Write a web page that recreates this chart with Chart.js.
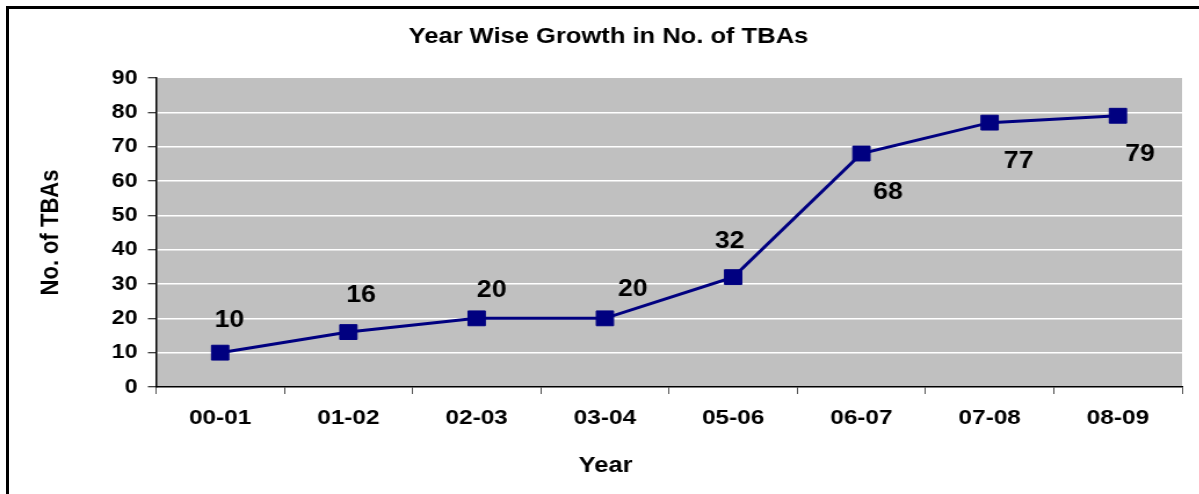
<!DOCTYPE html>
<html>
<head>
<meta charset="utf-8">
<script src="https://cdn.jsdelivr.net/npm/chart.js@4"></script>
<style>
  html, body { margin: 0; padding: 0; background: #fff; overflow: hidden; width: 1199px; height: 494px; }
  #frame { position: absolute; left: 6px; top: 6px; width: 3000px; height: 3000px;
           border-left: 3px solid #000; border-top: 3px solid #000; }
  #wrap { position: absolute; left: 0; top: 0; width: 1034px; height: 494px;
          transform: scaleX(1.16); transform-origin: 0 0; }
</style>
</head>
<body>
<div id="frame"></div>
<div id="wrap"><canvas id="c" width="1034" height="494"></canvas></div>
<script>
// ---- data ----
const categories = ['00-01', '01-02', '02-03', '03-04', '05-06', '06-07', '07-08', '08-09'];
const tbaCounts = [10, 16, 20, 20, 32, 68, 77, 79];
const yTicks = [0, 10, 20, 30, 40, 50, 60, 70, 80, 90];
const chartTitle = 'Year Wise Growth in No. of TBAs';
const xTitle = 'Year';
const yTitle = 'No. of TBAs';

// label offsets relative to each point (style only)
const labelDx = [8, 11, 13, 24, -3, 23, 25, 19];
const labelDy = [-32, -36, -28, -29, -35, 39, 39, 39];

const FONT = '"Liberation Sans", Arial, sans-serif';

const plotBg = {
  id: 'plotBg',
  beforeDraw(chart) {
    const { ctx, chartArea: a } = chart;
    ctx.save();
    ctx.fillStyle = '#C0C0C0';
    ctx.fillRect(a.left, a.top, a.right - a.left, a.bottom - a.top);
    ctx.restore();
  }
};

const valueLabels = {
  id: 'valueLabels',
  afterDatasetsDraw(chart) {
    const { ctx } = chart;
    const meta = chart.getDatasetMeta(0);
    ctx.save();
    ctx.font = 'bold 23px ' + FONT;
    ctx.fillStyle = '#000';
    ctx.textAlign = 'center';
    ctx.textBaseline = 'middle';
    meta.data.forEach((pt, i) => {
      ctx.fillText(String(tbaCounts[i]), pt.x + labelDx[i], pt.y + labelDy[i]);
    });
    ctx.restore();
  }
};

const xAxisTitle = {
  id: 'xAxisTitle',
  afterDraw(chart) {
    const { ctx, width } = chart;
    const xs = chart.scales.x;
    ctx.save();
    ctx.font = 'bold 22px ' + FONT;
    ctx.fillStyle = '#000';
    ctx.textAlign = 'center';
    ctx.textBaseline = 'middle';
    ctx.fillText(xTitle, width / 2 + 5, xs.bottom - 28.5);
    ctx.restore();
  }
};

new Chart(document.getElementById('c'), {
  type: 'line',
  data: {
    labels: categories,
    datasets: [{
      data: tbaCounts,
      borderColor: '#000080',
      backgroundColor: '#000080',
      borderWidth: 3,
      pointStyle: 'rect',
      pointRadius: 10.5,
      pointBorderWidth: 1,
      pointBackgroundColor: '#000080',
      pointBorderColor: '#000080',
      tension: 0,
      fill: false
    }]
  },
  options: {
    responsive: false,
    animation: false,
    events: [],
    layout: { padding: { left: 30, right: 15, top: 0, bottom: 0 } },
    plugins: {
      legend: { display: false },
      tooltip: { enabled: false },
      title: {
        display: true,
        text: chartTitle,
        color: '#000',
        font: { family: FONT, size: 22, weight: 'bold', lineHeight: 1.2 },
        padding: { top: 24, bottom: 27.6 }
      }
    },
    scales: {
      x: {
        type: 'category',
        offset: true,
        grid: {
          offset: true,
          drawOnChartArea: false,
          drawTicks: true,
          tickLength: 7,
          tickColor: '#555',
          tickWidth: 1
        },
        border: { display: true, color: '#000', width: 1.5 },
        ticks: {
          color: '#000',
          font: { family: FONT, size: 21, weight: 'bold' },
          padding: 12,
          maxRotation: 0,
          autoSkip: false
        },
        title: { display: false, text: xTitle },
        afterFit(scale) { scale.height = 107; }
      },
      y: {
        min: 0,
        max: 90,
        afterBuildTicks(scale) { scale.ticks = yTicks.map(v => ({ value: v })); },
        grid: {
          color: (c) => (c.tick && (c.tick.value === 0 || c.tick.value === 90)) ? 'rgba(0,0,0,0)' : '#FFFFFF',
          lineWidth: 1.5,
          drawTicks: true,
          tickLength: 7,
          tickColor: '#000',
          tickWidth: 1
        },
        border: { display: true, color: '#000', width: 1.5 },
        ticks: {
          color: '#000',
          font: { family: FONT, size: 20, weight: 'bold' },
          padding: 9
        },
        title: {
          display: true,
          text: yTitle,
          color: '#000',
          font: { family: FONT, size: 22, weight: 'bold', lineHeight: 1.2 },
          padding: { top: 1, bottom: 0 }
        },
        afterFit(scale) { scale.width = 104.5; }
      }
    }
  },
  plugins: [plotBg, valueLabels, xAxisTitle]
});
</script>
</body>
</html>
